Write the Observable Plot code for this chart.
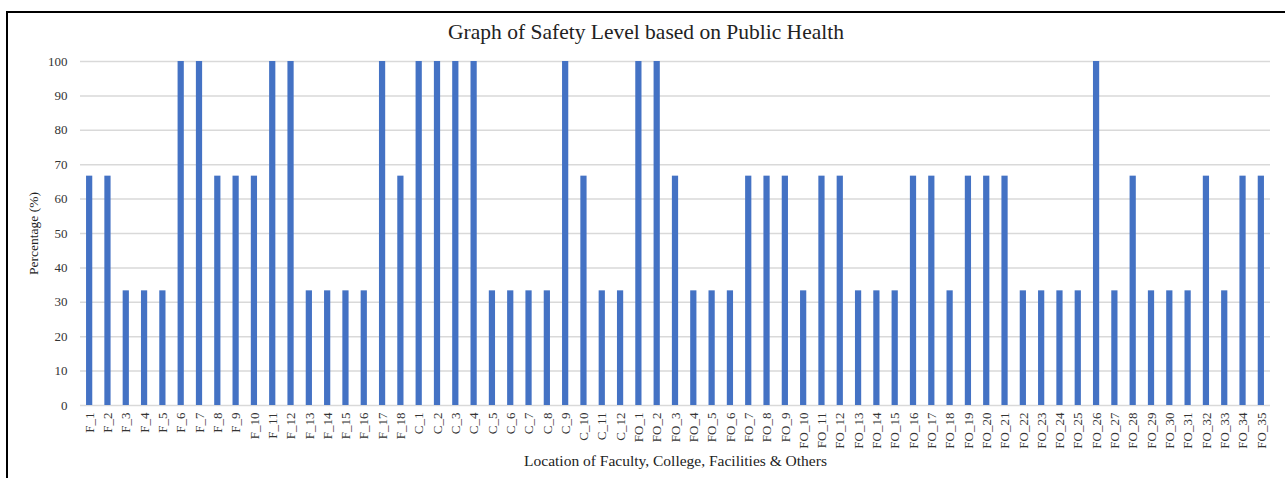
<!DOCTYPE html>
<html>
<head>
<meta charset="utf-8">
<script src="https://cdn.jsdelivr.net/npm/d3@7"></script>
<script src="https://cdn.jsdelivr.net/npm/@observablehq/plot@0.6"></script>
<style>
  body { margin: 0; background: #fff; }
  #wrap { position: relative; width: 1285px; height: 478px; overflow: hidden; font-family: "Liberation Serif", "DejaVu Serif", serif; }
  #frame { position: absolute; left: 6px; top: 11px; width: 1290px; height: 480px; border-top: 2px solid #000; border-left: 2px solid #000; }
  #title { position: absolute; left: 0; width: 1292px; top: 20px; text-align: center; font-size: 21.5px; color: #222; }
  #chart { position: absolute; left: 0; top: 0; }
  #chart svg text { font-family: "Liberation Serif", "DejaVu Serif", serif; }
</style>
</head>
<body>
<div id="wrap">
  <div id="frame"></div>
  <div id="title">Graph of Safety Level based on Public Health</div>
  <div id="chart"></div>
</div>
<script>
const faculties = Array.from({length: 18}, (_, i) => `F_${i + 1}`);
const colleges = Array.from({length: 12}, (_, i) => `C_${i + 1}`);
const others = Array.from({length: 35}, (_, i) => `FO_${i + 1}`);

const facultyValues = [66.67, 66.67, 33.33, 33.33, 33.33, 100, 100, 66.67, 66.67, 66.67, 100, 100, 33.33, 33.33, 33.33, 33.33, 100, 66.67];
const collegeValues = [100, 100, 100, 100, 33.33, 33.33, 33.33, 33.33, 100, 66.67, 33.33, 33.33];
const otherValues = [100, 100, 66.67, 33.33, 33.33, 33.33, 66.67, 66.67, 66.67, 33.33, 66.67, 66.67, 33.33, 33.33, 33.33, 66.67, 66.67, 33.33, 66.67, 66.67, 66.67, 33.33, 33.33, 33.33, 33.33, 100, 33.33, 66.67, 33.33, 33.33, 33.33, 66.67, 33.33, 66.67, 66.67];
const yTicks = [0, 10, 20, 30, 40, 50, 60, 70, 80, 90, 100];

const locations = [...faculties, ...colleges, ...others];
const values = [...facultyValues, ...collegeValues, ...otherValues];
const data = locations.map((loc, i) => ({loc, value: values[i]}));

const chart = Plot.plot({
  width: 1285,
  height: 478,
  marginTop: 61,
  marginBottom: 73,
  marginLeft: 80,
  marginRight: 15,
  style: {fontFamily: '"Liberation Serif", "DejaVu Serif", serif', fontSize: "13px", color: "#333", background: "transparent"},
  x: {domain: locations, paddingInner: 0.66, paddingOuter: 0.33, round: false, label: null},
  y: {domain: [0, 100], label: null},
  marks: [
    Plot.gridY(yTicks, {stroke: "#d9d9d9", strokeOpacity: 1, strokeWidth: 1.5}),
    Plot.barY(data, {x: "loc", y: "value", fill: "#4472C4"}),
    Plot.axisY(yTicks, {tickSize: 0, tickPadding: 13, fontSize: 13, fill: "#333", label: null}),
    Plot.axisX({tickSize: 0, tickRotate: -90, tickPadding: 7, fontSize: 13, fill: "#333", label: null}),
    Plot.text(["Location of Faculty, College, Facilities & Others"], {frameAnchor: "bottom", dy: 60, fontSize: 15.5, fill: "#222"}),
    Plot.text(["Percentage (%)"], {frameAnchor: "left", textAnchor: "middle", dx: -47, rotate: -90, fontSize: 13.5, fill: "#222"})
  ]
});
document.getElementById("chart").appendChild(chart);
</script>
</body>
</html>
